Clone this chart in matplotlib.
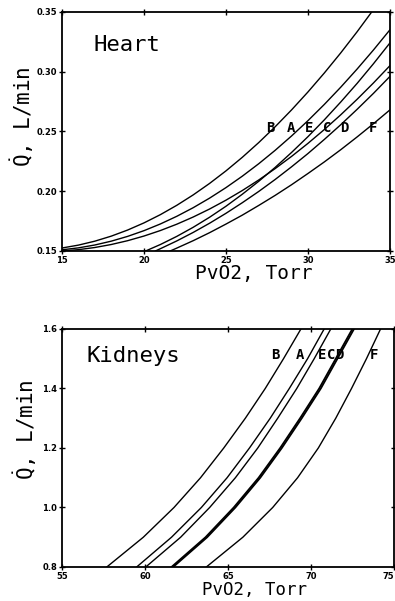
import matplotlib.pyplot as plt

plt.rcParams['mathtext.fontset'] = 'custom'
plt.rcParams['mathtext.rm'] = 'DejaVu Sans Mono'
MONO = 'DejaVu Sans Mono'

# ---- heart panel: Q (L/min) vs PvO2 (Torr) ----
heart_B_x = [15, 16, 17, 18, 19, 20, 21, 22, 23, 24, 25, 26, 27, 28, 29, 30, 31, 32, 33, 34]
heart_B_y = [0.1525, 0.1549, 0.1582, 0.1624, 0.1675, 0.1735, 0.1804, 0.1882, 0.1969, 0.2065,
             0.2170, 0.2284, 0.2407, 0.2539, 0.2680, 0.2830, 0.2989, 0.3157, 0.3334, 0.3520]
heart_A_x = [15, 16, 17, 18, 19, 20, 21, 22, 23, 24, 25, 26, 27, 28, 29, 30, 31, 32, 33, 34, 35]
heart_A_y = [0.1510, 0.1526, 0.1550, 0.1582, 0.1622, 0.1670, 0.1726, 0.1790, 0.1862, 0.1942, 0.2030,
             0.2126, 0.2230, 0.2342, 0.2462, 0.2590, 0.2726, 0.2870, 0.3022, 0.3182, 0.3350]
heart_C_x = [15, 16, 17, 18, 19, 20, 21, 22, 23, 24, 25, 26, 27, 28, 29, 30, 31, 32, 33, 34, 35]
heart_C_y = [0.1500, 0.1511, 0.1529, 0.1554, 0.1586, 0.1625, 0.1671, 0.1724, 0.1784, 0.1851, 0.1925,
             0.2006, 0.2094, 0.2189, 0.2291, 0.2400, 0.2516, 0.2639, 0.2769, 0.2906, 0.3050]
heart_E_x = [20.1, 21, 22, 23, 24, 25, 26, 27, 28, 29, 30, 31, 32, 33, 34, 35]
heart_E_y = [0.1500, 0.1554, 0.1622, 0.1698, 0.1782, 0.1874, 0.1975, 0.2083, 0.2199, 0.2324,
             0.2456, 0.2597, 0.2746, 0.2902, 0.3067, 0.3240]
heart_D_x = [20.7, 21, 22, 23, 24, 25, 26, 27, 28, 29, 30, 31, 32, 33, 34, 35]
heart_D_y = [0.1500, 0.1519, 0.1584, 0.1655, 0.1732, 0.1815, 0.1904, 0.1998, 0.2098, 0.2204,
             0.2315, 0.2433, 0.2556, 0.2685, 0.2819, 0.2960]
heart_F_x = [21.6, 22, 23, 24, 25, 26, 27, 28, 29, 30, 31, 32, 33, 34, 35]
heart_F_y = [0.1500, 0.1524, 0.1586, 0.1653, 0.1725, 0.1800, 0.1881, 0.1965, 0.2054, 0.2148,
             0.2245, 0.2347, 0.2454, 0.2565, 0.2680]

heart_labels = ['B', 'A', 'E', 'C', 'D', 'F']
heart_label_x = [27.7, 28.95, 30.05, 31.2, 32.2, 33.95]
heart_label_y = 0.253
heart_xticks = [15, 20, 25, 30, 35]
heart_yticks = [0.15, 0.20, 0.25, 0.30, 0.35]

# ---- kidney panel: PvO2 read at fixed Q levels ----
kidney_q = [0.8, 0.9, 1.0, 1.1, 1.2, 1.3, 1.4, 1.5, 1.6]
kidney_B_x = [57.7, 59.9, 61.75, 63.35, 64.75, 66.05, 67.25, 68.35, 69.4]
kidney_A_x = [59.5, 61.6, 63.4, 64.95, 66.3, 67.55, 68.7, 69.8, 70.8]
kidney_E_x = [60.05, 62.15, 63.9, 65.45, 66.8, 68.0, 69.15, 70.2, 71.2]
kidney_C_x = [61.6, 63.65, 65.35, 66.85, 68.15, 69.35, 70.5, 71.5, 72.5]
kidney_D_x = [61.7, 63.75, 65.45, 66.95, 68.25, 69.45, 70.6, 71.6, 72.6]
kidney_F_x = [63.7, 65.9, 67.7, 69.2, 70.45, 71.5, 72.45, 73.35, 74.2]

kidney_labels = ['B', 'A', 'E', 'C', 'D', 'F']
kidney_label_x = [67.85, 69.35, 70.7, 71.2, 71.7, 73.8]
kidney_label_y = 1.513
kidney_xticks = [55, 60, 65, 70, 75]
kidney_yticks = [0.8, 1.0, 1.2, 1.4, 1.6]

fig = plt.figure(figsize=(3.95, 6.01), dpi=100)
ax1 = fig.add_axes([0.157, 0.5824, 0.830, 0.3977])
ax2 = fig.add_axes([0.157, 0.0566, 0.840, 0.3960])


def style(ax, xticks, yticks, xfmt, yfmt):
    ax.set_xticks(xticks)
    ax.set_yticks(yticks)
    ax.set_xticklabels([xfmt % v for v in xticks], fontsize=6, fontweight='bold')
    ax.set_yticklabels([yfmt % v for v in yticks], fontsize=6, fontweight='bold')
    ax.tick_params(direction='inout', length=5, width=1, pad=1,
                   top=True, right=True)
    for s in ax.spines.values():
        s.set_linewidth(1.3)


ylab = r'$\dot{\mathrm{Q}}$, L/min'

# heart
for xs, ys in [(heart_B_x, heart_B_y), (heart_A_x, heart_A_y), (heart_C_x, heart_C_y),
               (heart_E_x, heart_E_y), (heart_D_x, heart_D_y), (heart_F_x, heart_F_y)]:
    ax1.plot(xs, ys, color='black', lw=1.0)
ax1.set_xlim(15, 35)
ax1.set_ylim(0.15, 0.35)
style(ax1, heart_xticks, heart_yticks, '%d', '%.2f')
for lab, lx in zip(heart_labels, heart_label_x):
    ax1.text(lx, heart_label_y, lab, fontsize=10, fontweight='bold', family=MONO,
             ha='center', va='center')
ax1.text(0.095, 0.86, 'Heart', transform=ax1.transAxes, fontsize=16, family=MONO,
         ha='left', va='center')
ax1.set_xlabel('PvO2, Torr', fontsize=14, family=MONO)
ax1.xaxis.set_label_coords(0.585, -0.055)
ax1.set_ylabel(ylab, fontsize=15, family=MONO)
ax1.yaxis.set_label_coords(-0.08, 0.56)

# kidneys
for xs, lw in [(kidney_B_x, 1.0), (kidney_A_x, 1.0), (kidney_E_x, 1.0),
               (kidney_C_x, 1.3), (kidney_D_x, 1.3), (kidney_F_x, 1.0)]:
    ax2.plot(xs, kidney_q, color='black', lw=lw)
ax2.set_xlim(55, 75)
ax2.set_ylim(0.8, 1.6)
style(ax2, kidney_xticks, kidney_yticks, '%d', '%.1f')
ax2.get_xticklabels()[-1].set_horizontalalignment('right')
for lab, lx in zip(kidney_labels, kidney_label_x):
    ax2.text(lx, kidney_label_y, lab, fontsize=10, fontweight='bold', family=MONO,
             ha='center', va='center')
ax2.text(0.075, 0.887, 'Kidneys', transform=ax2.transAxes, fontsize=16, family=MONO,
         ha='left', va='center')
ax2.set_xlabel('PvO2, Torr', fontsize=12.5, family=MONO)
ax2.xaxis.set_label_coords(0.58, -0.058)
ax2.set_ylabel(ylab, fontsize=15, family=MONO)
ax2.yaxis.set_label_coords(-0.07, 0.575)

fig.savefig('out.png', dpi=100)
